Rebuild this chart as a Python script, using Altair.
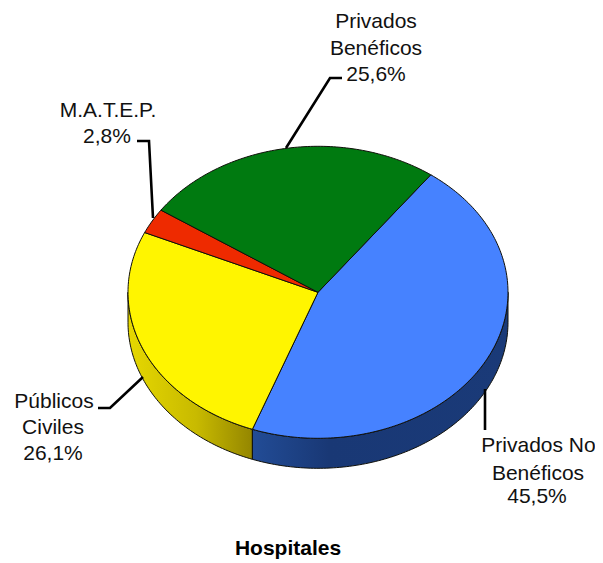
import math
import altair as alt
import pandas as pd

# Shares (clockwise from the green/blue boundary)
categories = ["Privados No Benéficos", "Públicos Civiles", "M.A.T.E.P.", "Privados Benéficos"]
shares = [45.5, 26.1, 2.8, 25.6]
top_colors = ["#4682ff", "#fff500", "#ee2a00", "#007a10"]

# Layout of the tilted pie
W, H = 587, 553
CX, CY, RX, RY, DEPTH = 310.0, 284.3, 190.0, 146.0, 30.0
START = 36.4
EDGE = "#10100a"

x_scale = alt.Scale(domain=[-CX / RX, (W - CX) / RX], range=[0, W])
y_scale = alt.Scale(domain=[(CY - H) / RY, CY / RY], range=[H, 0])


def ux(px):
    return (px - 8 - CX) / RX


def uy(py):
    return (CY - (py - 8)) / RY


def rim(a0, a1, drop=0.0):
    n = max(2, int(abs(a1 - a0)) + 1)
    pts = []
    for k in range(n + 1):
        a = math.radians(a0 + (a1 - a0) * k / n)
        pts.append((math.sin(a), math.cos(a) - drop))
    return pts


def polygon(pts, fill, stroke=EDGE, width=1.0):
    df = pd.DataFrame({"x": [p[0] for p in pts], "y": [p[1] for p in pts], "i": range(len(pts))})
    return (
        alt.Chart(df)
        .mark_line(interpolate="linear-closed", fill=fill, stroke=stroke, strokeWidth=width, strokeJoin="round")
        .encode(
            x=alt.X("x:Q", scale=x_scale, axis=None),
            y=alt.Y("y:Q", scale=y_scale, axis=None),
            order=alt.Order("i:Q"),
        )
    )


def polyline(points, width=2.6):
    pts = [(ux(a), uy(b)) for a, b in points]
    df = pd.DataFrame({"x": [p[0] for p in pts], "y": [p[1] for p in pts], "i": range(len(pts))})
    return (
        alt.Chart(df)
        .mark_line(color="black", strokeWidth=width, strokeJoin="miter")
        .encode(
            x=alt.X("x:Q", scale=x_scale, axis=None),
            y=alt.Y("y:Q", scale=y_scale, axis=None),
            order=alt.Order("i:Q"),
        )
    )


# Slice boundaries
angles = [START]
for s in shares:
    angles.append(angles[-1] + s * 3.6)

d = DEPTH / RY
layers = []

# Side walls (only the front half, 90..270 degrees, is visible)
yellow_wall = alt.Gradient(
    gradient="linear", x1=0, x2=1, y1=0, y2=0,
    stops=[
        alt.GradientStop(color="#e6d800", offset=0),
        alt.GradientStop(color="#c8ba00", offset=0.55),
        alt.GradientStop(color="#948600", offset=1),
    ],
)
blue_wall = alt.Gradient(
    gradient="linear", x1=0, x2=1, y1=0, y2=0,
    stops=[
        alt.GradientStop(color="#224c96", offset=0),
        alt.GradientStop(color="#193875", offset=0.3),
        alt.GradientStop(color="#1a3a78", offset=1),
    ],
)
layers.append(polygon(rim(angles[1], 270) + rim(270, angles[1], d), yellow_wall))
layers.append(polygon(rim(90, angles[1]) + rim(angles[1], 90, d), blue_wall))

# Top faces
for i, c in enumerate(top_colors):
    layers.append(polygon([(0.0, 0.0)] + rim(angles[i], angles[i + 1]), c))

# Leader lines
layers.append(polyline([(342, 78), (330, 78), (286, 148)]))
layers.append(polyline([(137, 141), (149, 141), (153, 218)]))
layers.append(polyline([(98, 408), (110, 408), (143, 377)]))
layers.append(polyline([(485, 389), (485, 430)]))

# Labels
label_text = [
    "Privados", "Benéficos", "25,6%",
    "M.A.T.E.P.", "2,8%",
    "Públicos", "Civiles", "26,1%",
    "Privados No", "Benéficos", "45,5%",
]
label_x = [376, 376, 376, 108, 107, 54, 53, 53, 538.5, 538, 537]
label_y = [28, 55, 81, 117, 143, 408, 434, 460, 452, 480, 503]
labels = pd.DataFrame({"t": label_text, "x": [ux(v) for v in label_x], "y": [uy(v) for v in label_y]})
layers.append(
    alt.Chart(labels)
    .mark_text(font="Liberation Sans", fontSize=21, color="#111111", baseline="alphabetic", align="center")
    .encode(
        x=alt.X("x:Q", scale=x_scale, axis=None),
        y=alt.Y("y:Q", scale=y_scale, axis=None),
        text="t:N",
    )
)

title = pd.DataFrame({"t": ["Hospitales"], "x": [ux(288)], "y": [uy(555)]})
layers.append(
    alt.Chart(title)
    .mark_text(font="Liberation Sans", fontSize=21, fontWeight="bold", color="black", baseline="alphabetic", align="center")
    .encode(
        x=alt.X("x:Q", scale=x_scale, axis=None),
        y=alt.Y("y:Q", scale=y_scale, axis=None),
        text="t:N",
    )
)

chart = (
    alt.layer(*layers)
    .properties(width=W, height=H, padding=0, autosize=alt.AutoSizeParams(type="none"), background="white")
    .configure_view(stroke=None)
)

chart.save("out.html", embed_options={"renderer": "svg", "actions": False})
